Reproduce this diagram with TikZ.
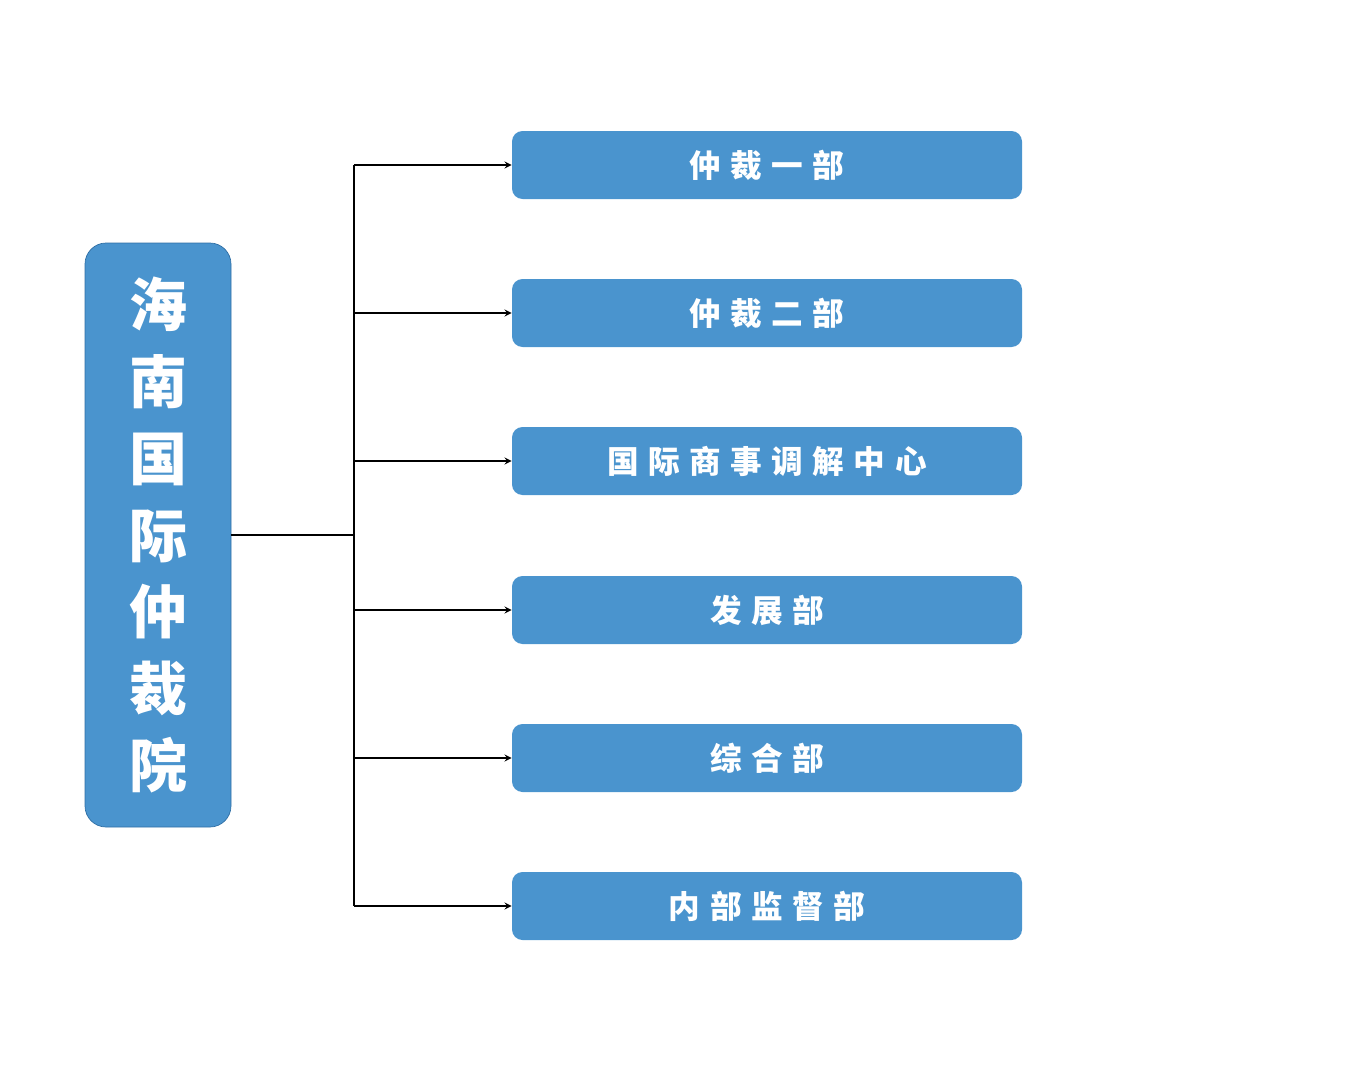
\documentclass[tikz,border=0pt]{standalone}
\usepackage{fontspec}
\newfontfamily\cjk[LetterSpace=30]{Noto Sans CJK SC}
\newfontfamily\cjkbig{Noto Sans CJK SC}
\definecolor{boxblue}{HTML}{4A94CE}
\definecolor{boxedge}{HTML}{2F6FA5}
\tikzset{
  dept/.style={fill=boxblue, draw=none, rounded corners=6pt, minimum width=510*0.02cm,
    minimum height=68*0.02cm, text=white, font=\cjk\bfseries\fontsize{18}{20}\selectfont},
  head/.style={fill=boxblue, draw=boxedge, rounded corners=12pt, minimum width=146*0.02cm,
    minimum height=584*0.02cm, text=white, align=center,
    font=\cjkbig\bfseries\fontsize{33}{43.7}\selectfont},
  link/.style={thick, -stealth}
}
\begin{document}
\begin{tikzpicture}[x=0.02cm, y=-0.02cm]
  \useasboundingbox (0,0) rectangle (1369,1079);
  \node[head] (hq) at (158,535) {海\\南\\国\\际\\仲\\裁\\院};
  \node[dept] (d1) at (767,165) {仲裁一部};
  \node[dept] (d2) at (767,313) {仲裁二部};
  \node[dept] (d3) at (767,461) {国际商事调解中心};
  \node[dept] (d4) at (767,610) {发展部};
  \node[dept] (d5) at (767,758) {综合部};
  \node[dept] (d6) at (767,906) {内部监督部};
  \coordinate (hub) at (354,535);
  \draw[thick] (hq.east) -- (hub);
  \draw[thick] (354,165) -- (354,906);
  \foreach \d in {d1,d2,d3,d4,d5,d6}
    \draw[link] (hub |- \d.west) -- (\d.west);
\end{tikzpicture}
\end{document}
